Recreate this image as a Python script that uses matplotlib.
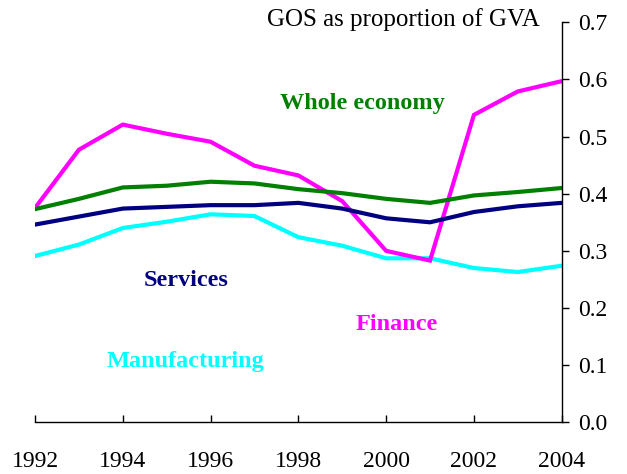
import matplotlib
matplotlib.use("Agg")
import matplotlib.pyplot as plt

years = list(range(1992, 2005))
whole_economy = [0.373, 0.391, 0.411, 0.414, 0.421, 0.418, 0.408, 0.401, 0.391, 0.384, 0.397, 0.403, 0.410]
services = [0.346, 0.360, 0.374, 0.377, 0.380, 0.380, 0.384, 0.374, 0.357, 0.350, 0.368, 0.378, 0.384]
finance = [0.375, 0.477, 0.521, 0.505, 0.491, 0.449, 0.432, 0.387, 0.300, 0.283, 0.538, 0.579, 0.597]
manufacturing = [0.291, 0.311, 0.340, 0.351, 0.364, 0.361, 0.324, 0.309, 0.287, 0.287, 0.270, 0.263, 0.274]

xticks = [1992, 1994, 1996, 1998, 2000, 2002, 2004]
yticks = [0.0, 0.1, 0.2, 0.3, 0.4, 0.5, 0.6, 0.7]

plt.rcParams['font.family'] = ['Liberation Serif', 'DejaVu Serif']

fig = plt.figure(figsize=(6.27, 4.74), dpi=100)
W, H = 627, 474
ax = fig.add_axes([35 / W, 1 - 422.3 / H, (561.7 - 35) / W, (422.3 - 22.3) / H])

lw = 3.0
ax.plot(years, manufacturing, color='#00FFFF', lw=lw, solid_joinstyle='miter')
ax.plot(years, finance, color='#FF00FF', lw=lw, solid_joinstyle='miter')
ax.plot(years, whole_economy, color='#008000', lw=lw, solid_joinstyle='miter')
ax.plot(years, services, color='#000080', lw=lw, solid_joinstyle='miter')

ax.set_xlim(1992, 2004)
ax.set_ylim(0, 0.7)
ax.set_xticks(xticks)
ax.set_xticklabels([str(x) for x in xticks])
ax.set_yticks(yticks)
ax.set_yticklabels([f"{v:.1f}" for v in yticks])

for s in ['top', 'left']:
    ax.spines[s].set_visible(False)
ax.spines['right'].set_linewidth(1.0)
ax.spines['bottom'].set_linewidth(1.0)
ax.yaxis.tick_right()
ax.tick_params(axis='y', direction='out', length=5, width=1, pad=7, labelsize=17)
ax.tick_params(axis='x', direction='in', length=5, width=1, pad=21, labelsize=17)

fig.text(540 / W, 1 - 20 / H, 'GOS as proportion of GVA', ha='right', va='center', fontsize=18)

lab_kw = dict(ha='center', va='center', fontsize=17.5, fontweight='bold')
fig.text(362 / W, 1 - 103 / H, 'Whole economy', color='#008000', **lab_kw)
fig.text(186 / W, 1 - 281 / H, 'Services', color='#000080', **lab_kw)
fig.text(397 / W, 1 - 325 / H, 'Finance', color='#FF00FF', **lab_kw)
fig.text(185 / W, 1 - 361 / H, 'Manufacturing', color='#00FFFF', **lab_kw)

fig.savefig('out.png', dpi=100)
